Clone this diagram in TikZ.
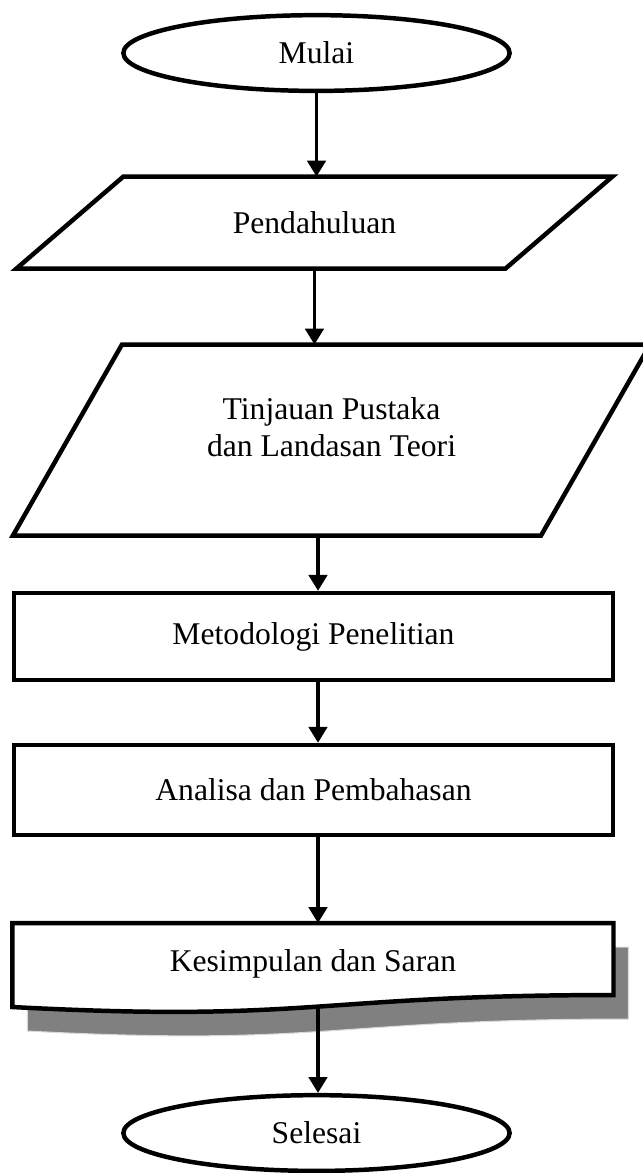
\documentclass[tikz,border=0pt]{standalone}
\usepackage{fontspec}
\setmainfont{Liberation Serif}
\usetikzlibrary{positioning, arrows.meta, shapes.geometric, calc}

\begin{document}
\begin{tikzpicture}[
    font=\fontsize{12}{14}\selectfont,
    terminal/.style={ellipse, draw, line width=1.7pt, minimum width=5.15cm, minimum height=1.01cm},
    body/.style={rectangle, inner sep=0pt},
    outline/.style={line width=1.7pt, line join=miter},
    process/.style={rectangle, draw, line width=1.7pt, minimum width=7.99cm},
    arrow/.style={-{Triangle[length=6pt, width=7pt]}, line width=1.2pt}
]
    \useasboundingbox (0,0) rectangle (8.573,-15.64);

    \node[terminal] (mulai) at (4.22,-0.707) {Mulai};

    \node[body, minimum width=6.507cm, minimum height=1.213cm] (pendahuluan) at (4.193,-2.967) {Pendahuluan};
    \draw[outline] ([xshift=0.713cm]pendahuluan.north west) -- ([xshift=0.713cm]pendahuluan.north east)
        -- ([xshift=-0.713cm]pendahuluan.south east) -- ([xshift=-0.713cm]pendahuluan.south west) -- cycle;

    \node[body, minimum width=7.027cm, minimum height=2.533cm] (pustaka) at (4.42,-5.867) {};
    \draw[outline] ([xshift=0.727cm]pustaka.north west) -- ([xshift=0.727cm]pustaka.north east)
        -- ([xshift=-0.727cm]pustaka.south east) -- ([xshift=-0.727cm]pustaka.south west) -- cycle;
    \node[align=center] (pustakatext) at ([yshift=0.17cm]pustaka.center) {Tinjauan Pustaka\\dan Landasan Teori};

    \node[process, minimum height=1.16cm] (metodologi) at (4.18,-8.487) {Metodologi Penelitian};
    \node[process, minimum height=1.2cm] (analisa) at (4.18,-10.533) {Analisa dan Pembahasan};

    % document shape with shadow
    \node[body, minimum width=8cm, minimum height=1.067cm, anchor=north] (kesimpulan) at (4.173,-12.307) {};
    \begin{scope}[transform canvas={xshift=0.2cm, yshift=-0.32cm}]
        \fill[gray, draw=gray!30, line width=0.4pt] (kesimpulan.north west) -- (kesimpulan.north east)
            -- ([yshift=-0.96cm]kesimpulan.north east)
            .. controls ([yshift=-0.96cm]kesimpulan.north) and ([yshift=-1.33cm]kesimpulan.north) ..
            ([yshift=-1.12cm]kesimpulan.north west) -- cycle;
    \end{scope}
    \draw[outline, fill=white] (kesimpulan.north west) -- (kesimpulan.north east)
        -- ([yshift=-0.96cm]kesimpulan.north east)
        .. controls ([yshift=-0.96cm]kesimpulan.north) and ([yshift=-1.33cm]kesimpulan.north) ..
        ([yshift=-1.12cm]kesimpulan.north west) -- cycle;
    \node (kesimpulantext) at (kesimpulan.center) {Kesimpulan dan Saran};
    \coordinate (kesbottom) at (4.24,-13.427);

    \node[terminal] (selesai) at (4.22,-15.107) {Selesai};

    \coordinate (axis) at (4.24,0);
    \draw[arrow] (mulai.south) -- (mulai.south |- pendahuluan.north);
    \draw[arrow] (pendahuluan.south) -- (pendahuluan.south |- pustaka.north);
    \draw[arrow] (axis |- pustaka.south) -- (axis |- metodologi.north);
    \draw[arrow] (axis |- metodologi.south) -- (axis |- analisa.north);
    \draw[arrow] (axis |- analisa.south) -- (axis |- kesimpulan.north);
    \draw[arrow] (kesbottom) -- (kesbottom |- selesai.north);
\end{tikzpicture}
\end{document}
